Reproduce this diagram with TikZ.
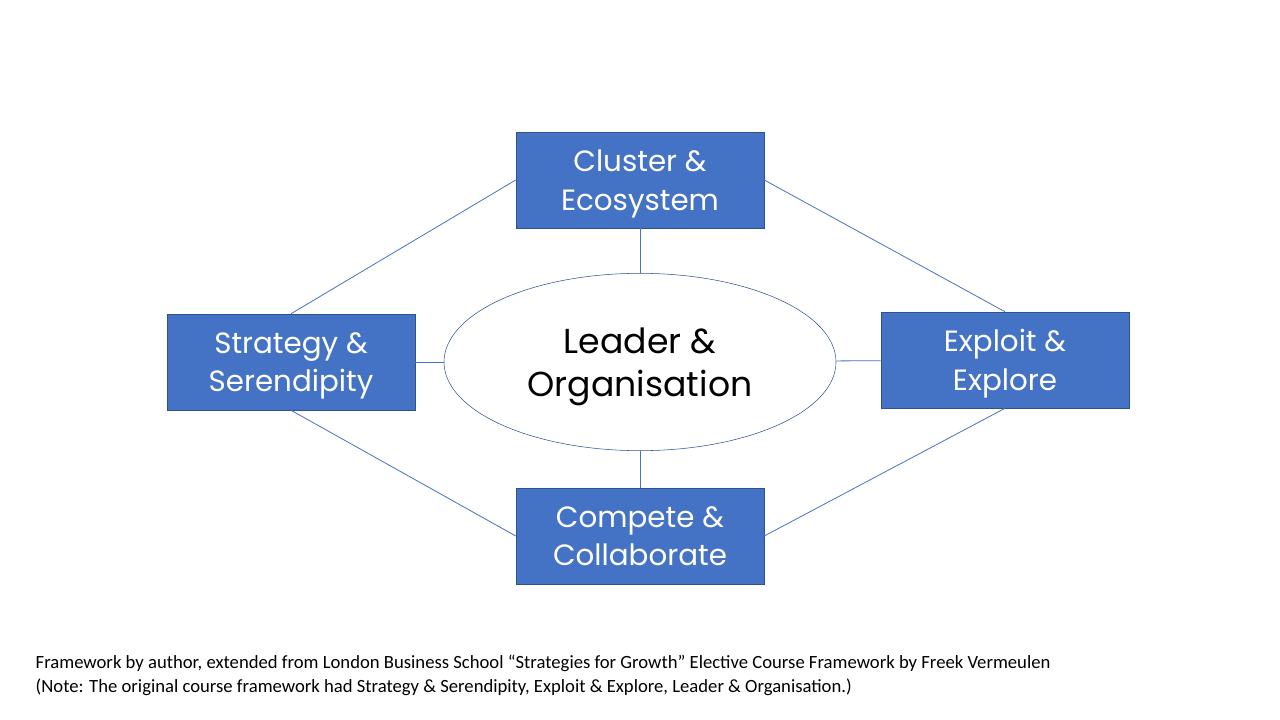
\documentclass[tikz,border=0pt]{standalone}
\usepackage{fontspec}
\setmainfont{Carlito}
\newfontfamily\boxfont{Poppins}
\usetikzlibrary{shapes.geometric}
\definecolor{boxblue}{HTML}{4472C4}
\definecolor{edgeblue}{HTML}{2F528F}
\tikzset{
  theme/.style={draw=edgeblue, fill=boxblue, text=white, minimum width=186pt,
    minimum height=72pt, align=center, text depth=0pt,
    font=\boxfont\fontsize{22}{29}\selectfont},
  link/.style={draw=boxblue, line width=0.6pt}
}
\begin{document}
\begin{tikzpicture}[x=0.75pt, y=-0.75pt]
\useasboundingbox (0,0) rectangle (1280,720);

\node[theme] (cluster) at (640,180) {Cluster \&\\Ecosystem};
\node[theme] (strategy) at (291,362) {Strategy \&\\Serendipity};
\node[theme] (exploit) at (1005,360) {Exploit \&\\Explore};
\node[theme] (compete) at (640,536) {Compete \&\\Collaborate};

\node[ellipse, draw=edgeblue, minimum width=294pt, minimum height=133pt,
  align=center, text depth=0pt, font=\boxfont\fontsize{26}{32}\selectfont]
  (leader) at (640,362) {Leader \&\\Organisation};

\draw[link] (cluster.west) -- (strategy.north);
\draw[link] (cluster.east) -- (exploit.north);
\draw[link] (strategy.south) -- (compete.west);
\draw[link] (exploit.south) -- (compete.east);
\draw[link] (cluster) -- (leader);
\draw[link] (compete) -- (leader);
\draw[link] (strategy) -- (leader);
\draw[link] (exploit) -- (leader);

\node[anchor=west, align=left, font=\fontsize{14}{18}\selectfont] (note) at (31,675)
  {Framework by author, extended from London Business School “Strategies for Growth” Elective Course Framework by Freek Vermeulen\\
   (Note: The original course framework had Strategy \& Serendipity, Exploit \& Explore, Leader \& Organisation.)};
\end{tikzpicture}
\end{document}
